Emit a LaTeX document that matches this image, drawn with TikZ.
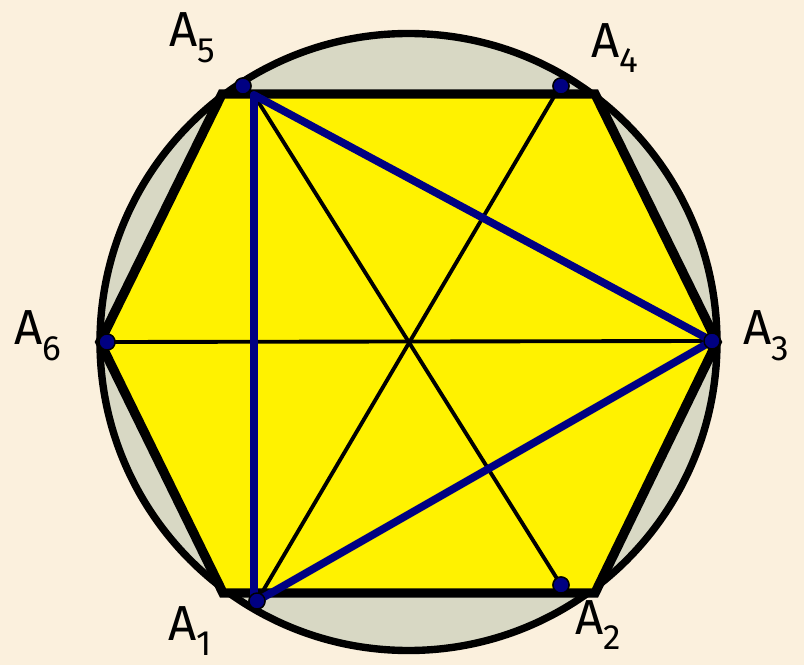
\documentclass[tikz,border=0pt]{standalone}
\usepackage{fontspec}
\setmainfont{Fira Sans}
\usetikzlibrary{calc}

\definecolor{paper}{RGB}{251,240,221}
\definecolor{disc}{RGB}{216,216,196}
\definecolor{navy}{RGB}{0,0,130}

\newcommand{\vlab}[1]{A\raisebox{-0.6ex}{\fontsize{20}{20}\selectfont #1}}

\begin{document}
\begin{tikzpicture}[x=0.02cm,y=-0.02cm,
	pt/.style={draw=black,circle,fill=navy,line width=0.8pt,inner sep=0pt,minimum size=0.32cm},
	lab/.style={font=\fontsize{28}{28}\selectfont,inner sep=0pt}]
	\fill[paper] (0,0) rectangle (804,665);
	\useasboundingbox (0,0) rectangle (804,665);
	% circle and hexagon
	\draw[fill=disc,line width=4.2pt] (408.5,342) circle (308.5);
	\coordinate (H1) at (223,593);
	\coordinate (H2) at (595,593);
	\coordinate (H3) at (717,342);
	\coordinate (H4) at (595,94);
	\coordinate (H5) at (222,94);
	\coordinate (H6) at (100,342);
	\draw[fill=yellow,line width=5.4pt,line join=miter]
	     (H1) -- (H2) -- (H3) -- (H4) -- (H5) -- (H6) -- cycle;
	% points
	\node[pt] (N1) at (257,601) {};
	\node[pt] (N2) at (561,585) {};
	\node[pt] (N3) at (712,341) {};
	\node[pt] (N4) at (561,86) {};
	\node[pt] (N5) at (243,86) {};
	\node[pt] (N6) at (107,342) {};
	\coordinate (B5) at (254,95);
	\coordinate (B1) at (254,598);
	\coordinate (T4) at (555,95);
	% diagonals
	\path[-,color=black,line width=2.2pt]
	     (N6.center) edge (N3.center)
	     (B5) edge (N2.center)
	     (T4) edge (N1.center);
	% triangle
	\path[-,color=navy,line width=4.4pt,line cap=round]
	     (B5) edge (B1)  (B1) edge (N1.center)
	     (B5) edge (N3.center)  (N1.center) edge (N3.center);
	% redraw points on top
	\foreach \p in {N1,N2,N3,N4,N5,N6}
	     \node[pt] at (\p) {};
	% labels
	\node[lab] (L1) at (190,631) {\vlab{1}};
	\node[lab] (L2) at (598,625) {\vlab{2}};
	\node[lab] (L3) at (766,336) {\vlab{3}};
	\node[lab] (L4) at (615,48) {\vlab{4}};
	\node[lab] (L5) at (192,38) {\vlab{5}};
	\node[lab] (L6) at (38,336) {\vlab{6}};
\end{tikzpicture}
\end{document}
